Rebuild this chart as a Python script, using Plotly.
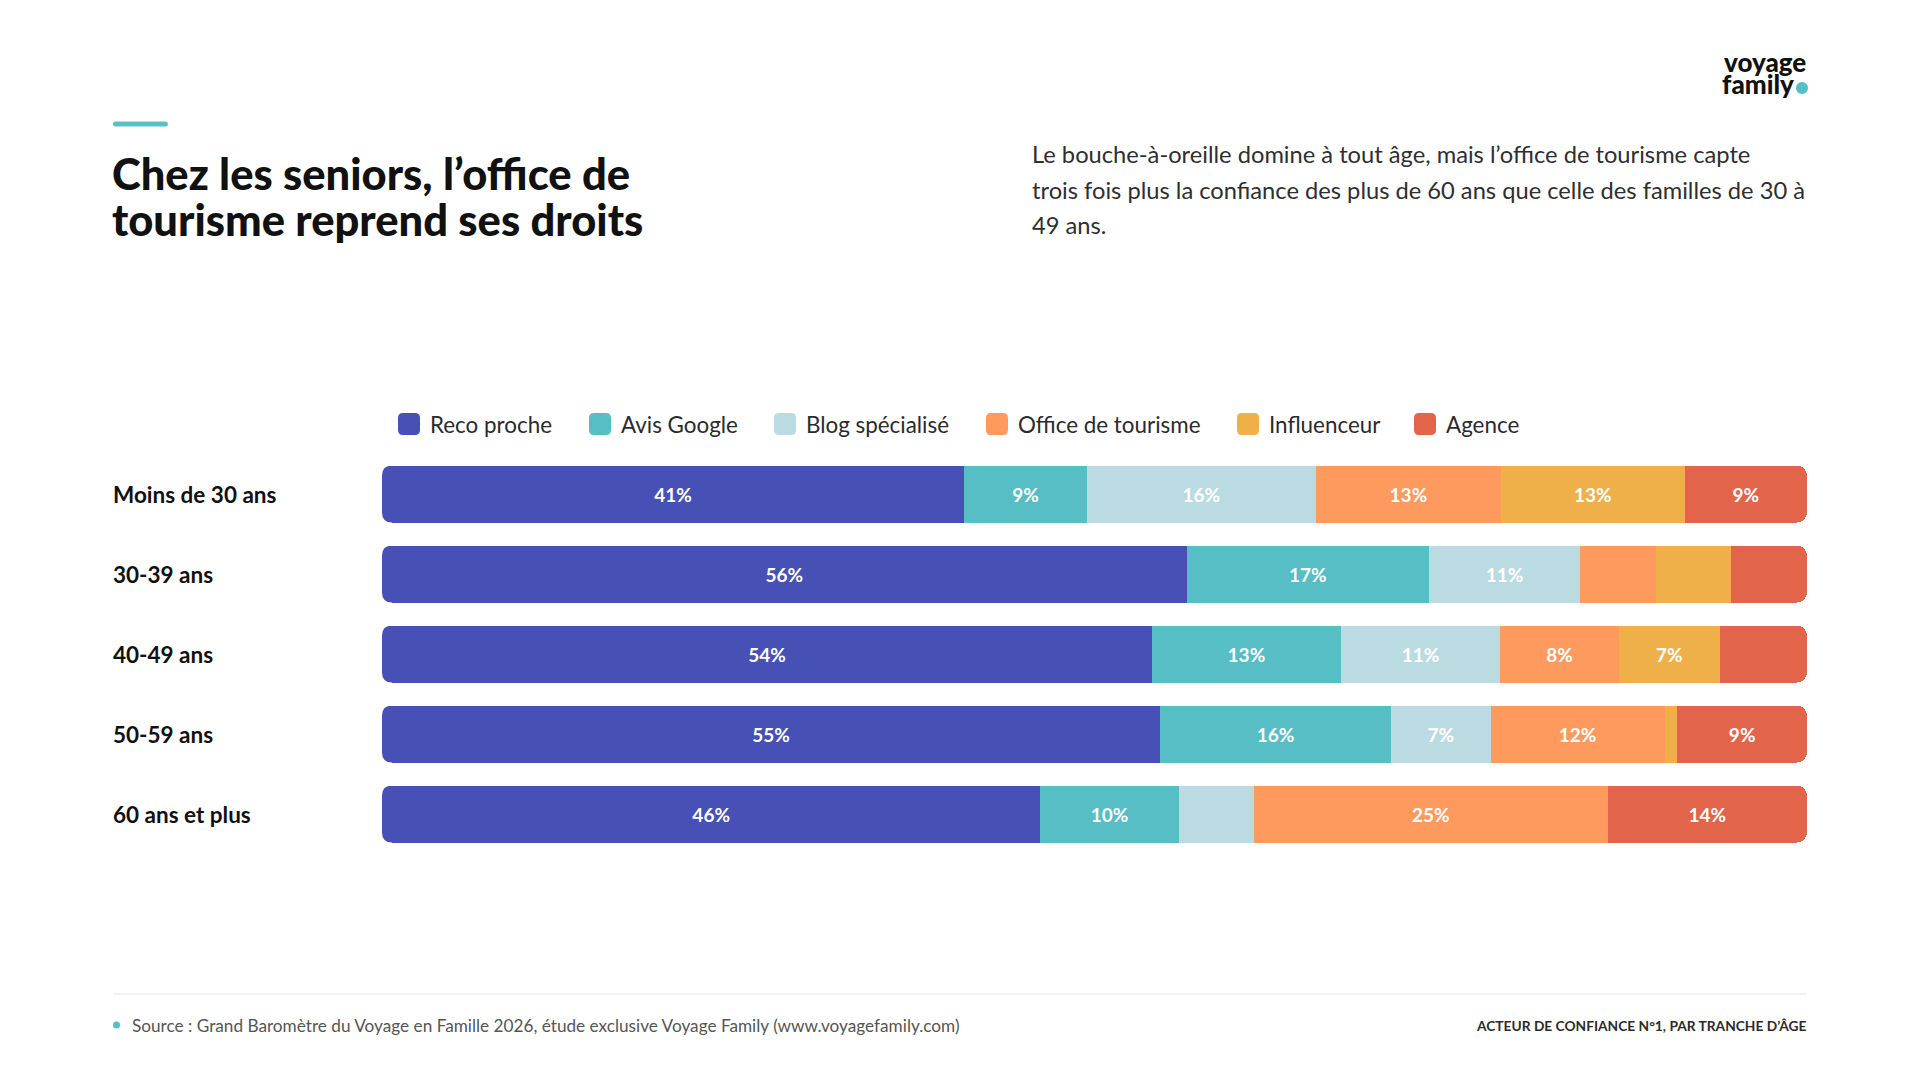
import plotly.graph_objects as go

# ---------------- data ----------------
categories = ["Moins de 30 ans", "30-39 ans", "40-49 ans", "50-59 ans", "60 ans et plus"]
series_names = ["Reco proche", "Avis Google", "Blog spécialisé", "Office de tourisme", "Influenceur", "Agence"]
reco_proche = [40.9, 56.4, 54.0, 54.6, 46.2]
avis_google = [8.6, 17.0, 13.2, 16.2, 9.7]
blog_specialise = [16.1, 10.6, 11.2, 7.0, 5.3]
office_tourisme = [13.0, 5.3, 8.3, 12.2, 24.8]
influenceur = [12.9, 5.3, 7.1, 0.9, 0.0]
agence = [8.6, 5.3, 6.1, 9.1, 14.0]
series_values = [reco_proche, avis_google, blog_specialise, office_tourisme, influenceur, agence]
colors = ["#4650b5", "#56bec4", "#bbdbe3", "#ff9a5f", "#efb04a", "#e2654b"]

title_lines = ["Chez les seniors, l’office de", "tourisme reprend ses droits"]
subtitle_lines = [
    "Le bouche-à-oreille domine à tout âge, mais l’office de tourisme capte",
    "trois fois plus la confiance des plus de 60 ans que celle des familles de 30 à",
    "49 ans.",
]
source_text = "Source : Grand Baromètre du Voyage en Famille 2026, étude exclusive Voyage Family (www.voyagefamily.com)"
footer_right = "ACTEUR DE CONFIANCE N°1, PAR TRANCHE D’ÂGE"

# ---------------- layout geometry ----------------
W, H = 1920, 1080
ML, MR, MT, MB = 382, 113, 454, 226
PW, PH = W - ML - MR, H - MT - MB
FONT = "Lato"


def px(x):
    return (x - ML) / PW


def py(y):
    return (H - MB - y) / PH


def rrect_path(x0, y0, x1, y1, r):
    # rounded rectangle in pixel coords -> paper path
    pts = [
        ("M", [(x0 + r, y0)]),
        ("L", [(x1 - r, y0)]),
        ("Q", [(x1, y0), (x1, y0 + r)]),
        ("L", [(x1, y1 - r)]),
        ("Q", [(x1, y1), (x1 - r, y1)]),
        ("L", [(x0 + r, y1)]),
        ("Q", [(x0, y1), (x0, y1 - r)]),
        ("L", [(x0, y0 + r)]),
        ("Q", [(x0, y0), (x0 + r, y0)]),
    ]
    s = ""
    for cmd, ps in pts:
        s += cmd + " " + " ".join(f"{px(a):.5f},{py(b):.5f}" for a, b in ps) + " "
    return s + "Z"


fig = go.Figure()
for name, vals, col in zip(series_names, series_values, colors):
    labels = [f"{round(v)}%" if round(v) >= 7 else "" for v in vals]
    fig.add_trace(go.Bar(
        y=categories, x=vals, name=name, orientation="h",
        marker=dict(color=col, line=dict(width=0)),
        text=labels, textposition="inside", insidetextanchor="middle",
        textangle=0, constraintext="none",
        textfont=dict(family=FONT, size=19, color="white", weight="bold"),
        showlegend=False,
        hovertemplate="%{y}<br>" + name + " : %{x:.0f}%<extra></extra>",
    ))

shapes = []
annotations = []

# left-end rounded corner masks (bars start at x=0)
half = 28.5
r = 10
for cat in categories:
    for s in (1, -1):
        shapes.append(dict(
            type="path", xref="x", yref="y", xsizemode="pixel", ysizemode="pixel",
            xanchor=0, yanchor=cat,
            path=f"M -2,{s*(half+1)} L {r},{s*(half+1)} L {r},{s*half} Q 0,{s*half} 0,{s*(half-r)} L -2,{s*(half-r)} Z",
            fillcolor="white", line=dict(width=0), layer="above",
        ))

# category labels (left aligned)
for cat in categories:
    annotations.append(dict(
        x=px(111), xref="paper", y=cat, yref="y", text=cat, showarrow=False,
        xanchor="left", yanchor="middle",
        font=dict(family=FONT, size=22.5, color="#111111", weight="bold"),
    ))

# legend (manual)
legend_sq_x = [398, 589, 774, 986, 1237, 1414]
legend_y = 424
for name, col, lx in zip(series_names, colors, legend_sq_x):
    shapes.append(dict(type="path", xref="paper", yref="paper",
                       path=rrect_path(lx, legend_y - 11, lx + 22, legend_y + 11, 5),
                       fillcolor=col, line=dict(width=0)))
    annotations.append(dict(
        x=px(lx + 30), xref="paper", y=py(legend_y), yref="paper", text=name,
        showarrow=False, xanchor="left", yanchor="middle",
        font=dict(family=FONT, size=22.4, color="#2b2b2b"),
    ))

# accent bar
shapes.append(dict(type="path", xref="paper", yref="paper",
                   path=rrect_path(113, 121.5, 168, 126.5, 2.5),
                   fillcolor="#5bc0c6", line=dict(width=0)))

# title
for line, yc in zip(title_lines, [173, 219]):
    annotations.append(dict(
        x=px(110), xref="paper", y=py(yc), yref="paper", text=line, showarrow=False,
        xanchor="left", yanchor="middle",
        font=dict(family=FONT, size=43.5, color="#111111", weight=900),
    ))

# subtitle
for line, yc in zip(subtitle_lines, [154, 190, 225]):
    annotations.append(dict(
        x=px(1030), xref="paper", y=py(yc), yref="paper", text=line,
        showarrow=False, xanchor="left", yanchor="middle",
        font=dict(family=FONT, size=23.7, color="#2f2f2f"),
    ))

# logo
annotations.append(dict(x=px(1808), xref="paper", y=py(62), yref="paper", text="voyage",
                        showarrow=False, xanchor="right", yanchor="middle",
                        font=dict(family=FONT, size=26, color="#111111", weight=900)))
annotations.append(dict(x=px(1796), xref="paper", y=py(84), yref="paper", text="family",
                        showarrow=False, xanchor="right", yanchor="middle",
                        font=dict(family=FONT, size=26, color="#111111", weight=900)))
shapes.append(dict(type="circle", xref="paper", yref="paper",
                   x0=px(1796), x1=px(1808), y0=py(82), y1=py(94),
                   fillcolor="#56bec4", line=dict(width=0)))

# footer
shapes.append(dict(type="line", xref="paper", yref="paper",
                   x0=px(113), x1=px(1807), y0=py(994), y1=py(994),
                   line=dict(color="#e6e6e6", width=1)))
shapes.append(dict(type="circle", xref="paper", yref="paper",
                   x0=px(113), x1=px(120), y0=py(1021.5), y1=py(1028.5),
                   fillcolor="#56bec4", line=dict(width=0)))
annotations.append(dict(x=px(130), xref="paper", y=py(1025), yref="paper", text=source_text,
                        showarrow=False, xanchor="left", yanchor="middle",
                        font=dict(family=FONT, size=17.2, color="#555555")))
annotations.append(dict(x=px(1808), xref="paper", y=py(1025), yref="paper", text=footer_right,
                        showarrow=False, xanchor="right", yanchor="middle",
                        font=dict(family=FONT, size=13.75, color="#2b2b2b", weight="bold")))

fig.update_layout(
    width=W, height=H, autosize=False,
    margin=dict(l=ML, r=MR, t=MT, b=MB, pad=0),
    paper_bgcolor="white", plot_bgcolor="white",
    barmode="stack", barnorm="percent", bargap=0.2875, barcornerradius=10,
    xaxis=dict(range=[0, 100], visible=False, fixedrange=True),
    yaxis=dict(categoryorder="array", categoryarray=categories, autorange="reversed",
               visible=False, fixedrange=True),
    shapes=shapes, annotations=annotations,
    font=dict(family=FONT),
    uniformtext=dict(mode=False),
)

fig.write_html("out.html")
